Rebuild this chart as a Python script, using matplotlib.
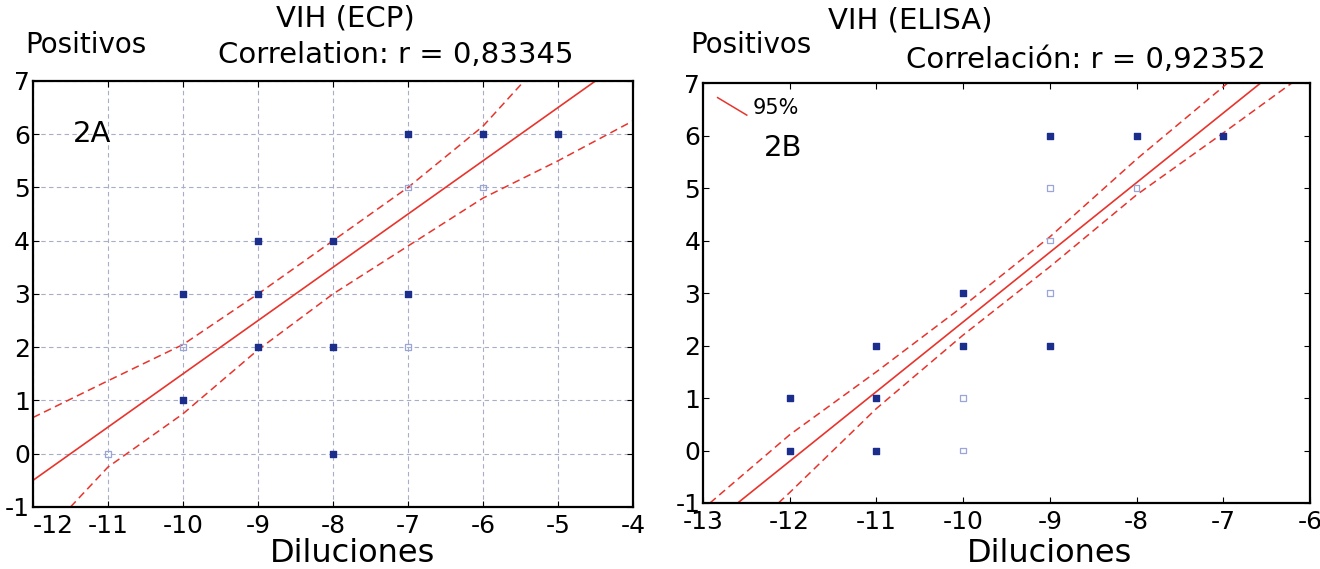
import numpy as np
import matplotlib.pyplot as plt
from matplotlib.lines import Line2D
from matplotlib.legend_handler import HandlerBase

plt.rcParams['font.family'] = ['Liberation Sans Narrow', 'DejaVu Sans']
plt.rcParams['axes.unicode_minus'] = False

# ---- panel 2A: VIH (ECP)
a_x = [-10, -10, -9, -9, -9, -8, -8, -8, -7, -7, -6, -5]
a_y = [3, 1, 4, 3, 2, 4, 2, 0, 6, 3, 6, 6]
a_faint_x = [-11, -10, -7, -7, -6]
a_faint_y = [0, 2, 5, 2, 5]
a_fit_x = [-12, -4.5]
a_fit_y = [-0.5, 7.0]
a_up_x = [-12, -11, -10, -9, -8, -7, -6, -5.45]
a_up_y = [0.68, 1.37, 2.05, 3.0, 4.0, 5.0, 6.15, 7.0]
a_lo_x = [-11.5, -11, -10, -9, -8, -7, -6, -5, -4]
a_lo_y = [-1.0, -0.25, 0.75, 1.95, 3.0, 3.9, 4.8, 5.5, 6.25]

# ---- panel 2B: VIH (ELISA)
b_x = [-12, -12, -11, -11, -11, -10, -10, -9, -9, -8, -7]
b_y = [1, 0, 2, 1, 0, 3, 2, 6, 2, 6, 6]
b_faint_x = [-10, -10, -9, -9, -9, -8]
b_faint_y = [1, 0, 5, 4, 3, 5]
b_fit_x = [-12.6, -6.57]
b_fit_y = [-1.0, 7.0]
b_up_x = [-12.92, -12, -11, -10, -9, -8, -7, -6.95]
b_up_y = [-1.0, 0.3, 1.5, 2.75, 4.07, 5.55, 6.93, 7.0]
b_lo_x = [-12.13, -12, -11, -10, -9, -8, -7, -6.21]
b_lo_y = [-1.0, -0.8, 0.8, 2.2, 3.5, 4.87, 6.05, 7.0]

red = '#e8342c'
blue = '#1c2e8c'
faint = '#9aa6d8'
txt = 'DejaVu Sans'


class DiagHandler(HandlerBase):
    def create_artists(self, legend, orig_handle, xdescent, ydescent,
                       width, height, fontsize, trans):
        ln = Line2D([0, width], [height * 1.1, -height * 0.1], color=red,
                    lw=1.1, transform=trans)
        return [ln]


fig = plt.figure(figsize=(13.2, 5.69), dpi=100)
ax1 = fig.add_axes([0.025, 0.109, 0.4545, 0.7487])
ax2 = fig.add_axes([0.5326, 0.116, 0.4598, 0.738])


def style(ax, xlim, grid):
    ax.set_xlim(*xlim)
    ax.set_ylim(-1, 7)
    ax.set_xticks(np.arange(xlim[0], xlim[1] + 1))
    ax.set_yticks(np.arange(-1, 8))
    ax.tick_params(direction='in', top=True, right=True, length=4,
                   labelsize=18, pad=2)
    ax.tick_params(axis='x', pad=5)
    for s in ax.spines.values():
        s.set_linewidth(1.6)
    if grid:
        ax.grid(True, color='#a8aec8', linestyle=(0, (4, 3)), linewidth=0.8)


style(ax1, (-12, -4), True)
style(ax2, (-13, -6), False)

# keep the corner label clear of the y axis labels, as in the original
ax1.get_xticklabels()[0].set_horizontalalignment('left')

for ax, px, py, fx, fy, lx, ly, ux, uy, dx, dy in [
        (ax1, a_x, a_y, a_faint_x, a_faint_y, a_fit_x, a_fit_y, a_up_x, a_up_y, a_lo_x, a_lo_y),
        (ax2, b_x, b_y, b_faint_x, b_faint_y, b_fit_x, b_fit_y, b_up_x, b_up_y, b_lo_x, b_lo_y)]:
    ax.plot(lx, ly, color=red, lw=1.2)
    ax.plot(ux, uy, color=red, lw=1.1, ls=(0, (5, 3)))
    ax.plot(dx, dy, color=red, lw=1.1, ls=(0, (5, 3)))
    ax.scatter(fx, fy, marker='s', s=16, facecolors='none', edgecolors=faint,
               linewidths=0.9, zorder=3)
    ax.scatter(px, py, marker='s', s=22, color=blue, zorder=4)

ax1.text(-11.47, 6.0, '2A', fontsize=21, va='center', family=txt)
ax2.text(-12.3, 5.76, '2B', fontsize=21, va='center', family=txt)
ax2.legend(handles=[Line2D([], [], color=red)], labels=['95%'],
           handler_map={Line2D: DiagHandler()},
           loc='upper left', frameon=False, prop={'family': txt, 'size': 15},
           handlelength=1.4, handletextpad=0.3, borderaxespad=0.3)

# titles and labels placed in figure coordinates
fig.text(345 / 1320, 1 - 18 / 569, 'VIH (ECP)', fontsize=21, family=txt,
         ha='center', va='center')
fig.text(396 / 1320, 1 - 55 / 569, 'Correlation: r = 0,83345', fontsize=21,
         family=txt, ha='center', va='center')
fig.text(910 / 1320, 1 - 20 / 569, 'VIH (ELISA)', fontsize=21, family=txt,
         ha='center', va='center')
fig.text(1086 / 1320, 1 - 60 / 569, 'Correlación: r = 0,92352', fontsize=21,
         family=txt, ha='center', va='center')
fig.text(25 / 1320, 1 - 45 / 569, 'Positivos', fontsize=20, family=txt,
         va='center')
fig.text(690 / 1320, 1 - 45 / 569, 'Positivos', fontsize=20, family=txt,
         va='center')
fig.text(353 / 1320, 1 - 553 / 569, 'Diluciones', fontsize=23, family=txt,
         ha='center', va='center')
fig.text(1050 / 1320, 1 - 553 / 569, 'Diluciones', fontsize=23, family=txt,
         ha='center', va='center')

fig.savefig('out.png', dpi=100)
